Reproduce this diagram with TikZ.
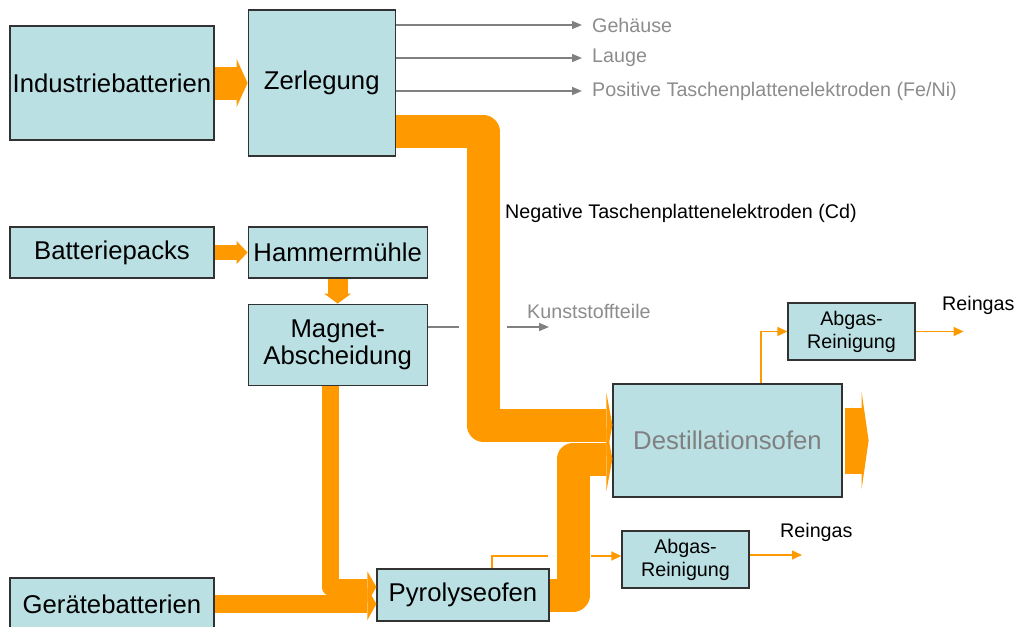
\documentclass[tikz,border=0pt]{standalone}
\usepackage{fontspec}
\setmainfont{Liberation Sans}
\usetikzlibrary{positioning,arrows.meta}
\definecolor{boxfill}{RGB}{186,224,227}
\definecolor{boxline}{RGB}{50,50,50}
\definecolor{flow}{RGB}{255,153,0}
\definecolor{waste}{RGB}{128,128,128}
\definecolor{wastetext}{RGB}{140,140,140}
\newcommand{\bigfont}{\fontsize{25.7}{27.5}\selectfont}
\newcommand{\smallfont}{\fontsize{19.7}{23}\selectfont}

\begin{document}
\begin{tikzpicture}[x=1pt, y=-1pt,
    box/.style={draw=boxline, fill=boxfill, line width=1.2pt, inner sep=2pt, align=center, font=\bigfont},
    gasbox/.style={box, font=\smallfont, minimum width=127pt, minimum height=57pt},
    txt/.style={inner sep=0pt, anchor=west, font=\smallfont},
    feed/.style={draw=flow, line join=round},
    thinflow/.style={draw=flow, line width=1.5pt},
    offgas/.style={thinflow, -{Triangle[length=10pt,width=9pt]}},
    residue/.style={draw=waste, line width=1.5pt, -{Triangle[length=10pt,width=8pt]}}]
\useasboundingbox (0,0) rectangle (1016,626);

\node[box, minimum width=204pt, minimum height=114pt] (indust) at (112,83) {Industriebatterien};
\node[box, minimum width=147pt, minimum height=146pt, right=33pt of indust] (zerleg) {Zerlegung};
\node[box, minimum width=204pt, minimum height=51pt] (packs) at (112,252.5) {Batteriepacks};
\node[box, minimum width=179pt, minimum height=51pt, right=33pt of packs] (hammer) {Hammermühle};
\node[box, minimum width=179pt, minimum height=81pt, below=25pt of hammer] (magnet) {Magnet-\\Abscheidung};
\node[box, minimum width=204pt, minimum height=52pt] (geraete) at (112,604) {Gerätebatterien};
\node[box, minimum width=172pt, minimum height=52pt] (pyro) at (463,595) {Pyrolyseofen};
\node[box, minimum width=229pt, minimum height=113pt, text=waste] (destill) at (727.5,440.5) {Destillationsofen};
\node[gasbox] (abgasA) at (851.5,331.5) {Abgas-\\Reinigung};
\node[gasbox] (abgasB) at (685.5,559.5) {Abgas-\\Reinigung};

\node[txt, text=wastetext] (gehaeuse) at (592,25) {Gehäuse};
\node[txt, text=wastetext] (lauge) at (592,58) {Lauge};
\node[txt, text=wastetext] (posel) at (592,91) {Positive Taschenplattenelektroden (Fe/Ni)};
\node[txt] (negel) at (505,213) {Negative Taschenplattenelektroden (Cd)};
\node[txt, text=wastetext] (kunst) at (527,311) {Kunststoffteile};
\node[txt] (reinA) at (942,305) {Reingas};
\node[txt] (reinB) at (780,532) {Reingas};

\coordinate (kunstL) at (459,327);
\coordinate (kunstR) at (507,327);
\coordinate (kunstE) at (549,327);
\coordinate (crossL) at (548,556);
\coordinate (crossR) at (591,556);
\coordinate (gasA) at ([xshift=48pt]abgasA.east);
\coordinate (gasB) at (802,555);
\coordinate (prod) at ([xshift=26pt]destill.east);

\foreach \out in {gehaeuse,lauge,posel}
    \draw[residue, shorten >=10pt] (zerleg.east |- \out.west) -- (\out.west);
\draw[draw=waste, line width=1.5pt] (magnet.east |- kunstL) -- (kunstL);
\draw[residue] (kunstR) -- (kunstE);

\draw[thinflow] ([xshift=29pt]pyro.north) |- (crossL);
\draw[offgas] (crossR) -- (crossR -| abgasB.west);
\draw[offgas] ([xshift=33.5pt]destill.north) |- (abgasA.west);
\draw[offgas] (abgasA.east) -- (gasA);
\draw[offgas] (gasB -| abgasB.east) -- (gasB);

\draw[feed, line width=33pt, -{Triangle[length=11pt,width=48pt,line width=0pt]}] (indust) -- (zerleg);
\draw[feed, line width=15pt, -{Triangle[length=11pt,width=23pt,line width=0pt]}] (packs) -- (hammer);
\draw[feed, line width=20pt, -{Triangle[length=10pt,width=27pt,line width=0pt]}] (hammer) -- (magnet);
\draw[feed, line width=33pt, -{Triangle[length=6pt,width=64pt,line width=0pt]}] ([yshift=25pt]zerleg.south east) -| (483,425) -- ([yshift=15.5pt]destill.west);
\draw[feed, line width=33pt, -{Triangle[length=6pt,width=64pt,line width=0pt]}] (pyro.east) -| (573,459) -- ([yshift=-18.5pt]destill.west);
\draw[feed, line width=17pt, -{Triangle[length=9pt,width=31pt,line width=0pt]}] ([xshift=-7.5pt]magnet.south) |- ([yshift=8pt]pyro.west);
\draw[feed, line width=18pt, -{Triangle[length=9pt,width=32pt,line width=0pt]}] (geraete.east) -- (geraete.east -| pyro.west);
\draw[feed, line width=66pt, -{Triangle[length=7pt,width=97pt,line width=0pt]}] ([xshift=2pt]destill.east) -- (prod);

\end{tikzpicture}
\end{document}
